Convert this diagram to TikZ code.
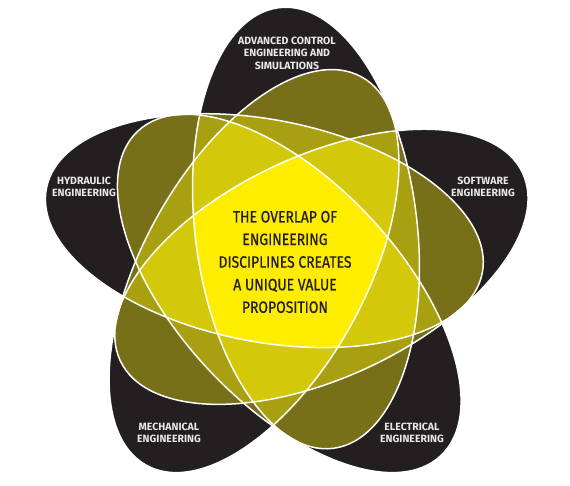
\documentclass[tikz,border=0pt]{standalone}
\usepackage{fontspec}
\setmainfont{Fira Sans}
\newfontfamily\centerfont{Fira Sans}[FakeStretch=0.85,FakeBold=0.7]
\usepackage{tikz}
\definecolor{petalone}{HTML}{231F20}
\definecolor{petaltwo}{HTML}{787019}
\definecolor{petalthree}{HTML}{A8A010}
\definecolor{petalfour}{HTML}{D4C80A}
\definecolor{petalfive}{HTML}{FFED00}
\definecolor{labelgrey}{HTML}{E8E8E8}
\newcommand{\petalclip}[1]{\clip[rotate=72*#1,shift={(19,30)},rotate=97] (0,0) ellipse [x radius=222,y radius=111];}
\newcommand{\petalfill}[2]{\fill[#2,rotate=72*#1,shift={(19,30)},rotate=97] (0,0) ellipse [x radius=222,y radius=111];}
\newcommand{\petaledge}[1]{\draw[petalline,rotate=72*#1,shift={(19,30)},rotate=97] (0,0) ellipse [x radius=222,y radius=111];}
\newcommand{\twofill}[2]{\begin{scope}\petalclip{#1}\petalfill{#2}{petaltwo}\end{scope}}
\newcommand{\threefill}[3]{\begin{scope}\petalclip{#1}\petalclip{#2}\petalfill{#3}{petalthree}\end{scope}}
\newcommand{\fourfill}[4]{\begin{scope}\petalclip{#1}\petalclip{#2}\petalclip{#3}\petalfill{#4}{petalfour}\end{scope}}
\newcommand{\petallabel}[4]{\node[outerlabel] (#1) at (#2,#3) {#4};}
\tikzset{
  petalline/.style={white, line width=1.5pt},
  outerlabel/.style={text=labelgrey, align=center, inner sep=0pt, font=\bfseries\fontsize{10.5}{12.6}\selectfont},
  centerlabel/.style={text=petalone, align=center, inner sep=0pt, font=\centerfont\fontsize{16.4}{22.6}\selectfont}
}

\begin{document}
\begin{tikzpicture}[x=1pt,y=1pt]
        \useasboundingbox (-287,-227) rectangle (283,258);
        % single petals
        \petalfill{0}{petalone}
        \petalfill{1}{petalone}
        \petalfill{2}{petalone}
        \petalfill{3}{petalone}
        \petalfill{4}{petalone}
        % two overlaps
        \twofill{0}{1}
        \twofill{0}{2}
        \twofill{0}{3}
        \twofill{0}{4}
        \twofill{1}{2}
        \twofill{1}{3}
        \twofill{1}{4}
        \twofill{2}{3}
        \twofill{2}{4}
        \twofill{3}{4}
        % three overlaps
        \threefill{0}{1}{2}
        \threefill{0}{1}{3}
        \threefill{0}{1}{4}
        \threefill{0}{2}{3}
        \threefill{0}{2}{4}
        \threefill{0}{3}{4}
        \threefill{1}{2}{3}
        \threefill{1}{2}{4}
        \threefill{1}{3}{4}
        \threefill{2}{3}{4}
        % four overlaps
        \fourfill{0}{1}{2}{3}
        \fourfill{0}{1}{2}{4}
        \fourfill{0}{1}{3}{4}
        \fourfill{0}{2}{3}{4}
        \fourfill{1}{2}{3}{4}
        % all five
        \begin{scope}
          \petalclip{0}\petalclip{1}\petalclip{2}\petalclip{3}
          \petalfill{4}{petalfive}
        \end{scope}
        % white outlines
        \petaledge{0}
        \petaledge{1}
        \petaledge{2}
        \petaledge{3}
        \petaledge{4}
        % labels
        \petallabel{control}{0}{205}{ADVANCED CONTROL\\ENGINEERING AND\\SIMULATIONS}
        \petallabel{hydraulic}{-203}{71}{HYDRAULIC\\ENGINEERING}
        \petallabel{software}{196}{71}{SOFTWARE\\ENGINEERING}
        \petallabel{mechanical}{-118}{-175}{MECHANICAL\\ENGINEERING}
        \petallabel{electrical}{125}{-175}{ELECTRICAL\\ENGINEERING}
        \node[centerlabel] (overlap) at (-2,-4) {THE OVERLAP OF\\ENGINEERING\\DISCIPLINES CREATES\\A UNIQUE VALUE\\PROPOSITION};
\end{tikzpicture}
\end{document}
